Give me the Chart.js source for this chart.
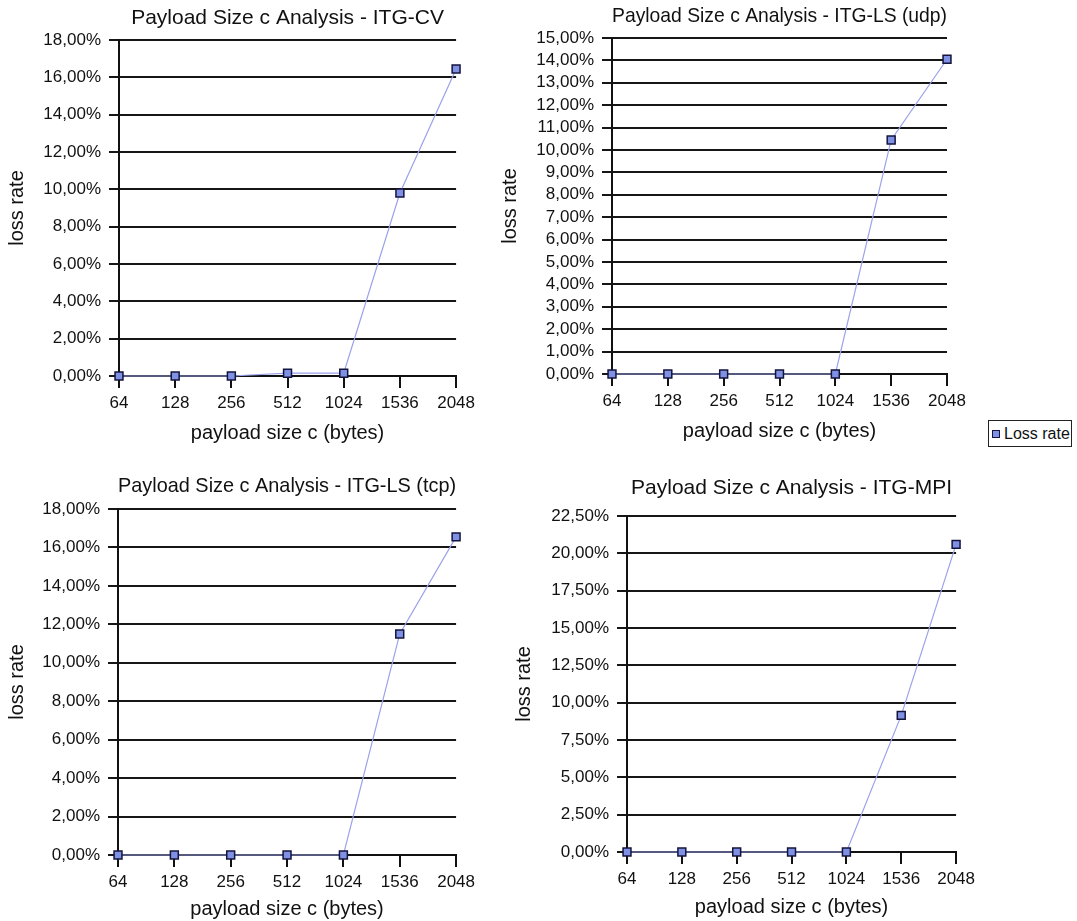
<!DOCTYPE html>
<html>
<head>
<meta charset="utf-8">
<title>Payload Size c Analysis</title>
<script src="https://cdn.jsdelivr.net/npm/chart.js@4.4.1/dist/chart.umd.min.js"></script>
<style>
  html, body { margin: 0; padding: 0; background: #fff; overflow: hidden; }
  body { width: 1077px; height: 921px; position: relative; }
  canvas { position: absolute; }
  .legend {
    position: absolute; left: 988px; top: 420px; width: 84px; height: 27px;
    box-sizing: border-box; border: 1.5px solid #222;
    display: flex; align-items: center; padding-left: 3px;
    font: 16px 'Liberation Sans', Arial, Helvetica, sans-serif; color: #111;
  }
  .legend i {
    display: inline-block; width: 6px; height: 6px; margin-right: 4px;
    background: #7f91e4; border: 1px solid #14143c;
  }
</style>
</head>
<body>
<canvas id="chart-cv"></canvas>
<canvas id="chart-ls-udp"></canvas>
<canvas id="chart-ls-tcp"></canvas>
<canvas id="chart-mpi"></canvas>
<div class="legend"><i></i>Loss rate</div>

<script>
// x categories: payload size c (bytes)
const payloadSizes = ['64', '128', '256', '512', '1024', '1536', '2048'];

// loss rate (%)
const lossCV = [0, 0, 0, 0.15, 0.15, 9.8, 16.45];
const lossLSudp = [0, 0, 0, 0, 0, 10.45, 14.05];
const lossLStcp = [0, 0, 0, 0, 0, 11.5, 16.55];
const lossMPI = [0, 0, 0, 0, 0, 9.15, 20.6];

// y tick values (%) per panel
const ticksCV = [0, 2, 4, 6, 8, 10, 12, 14, 16, 18];
const ticksLSudp = [0, 1, 2, 3, 4, 5, 6, 7, 8, 9, 10, 11, 12, 13, 14, 15];
const ticksLStcp = [0, 2, 4, 6, 8, 10, 12, 14, 16, 18];
const ticksMPI = [0, 2.5, 5, 7.5, 10, 12.5, 15, 17.5, 20, 22.5];

const FONT = "'Liberation Sans', Arial, Helvetica, sans-serif";
const TEXT = '#111';

// percent label with comma decimal, e.g. 12,50%
const fmtPct = v => v.toFixed(2).replace('.', ',') + '%';

// panel placement on the page (canvas box + wanted plot area)
const panels = [
    { id: 'chart-cv', title: 'Payload Size c Analysis - ITG-CV', data: lossCV, ticks: ticksCV,
      box: { x: 0, y: 0, w: 480, h: 449 }, area: { l: 119, r: 457, t: 40, b: 376 },
      titleY: 18, xTitleY: 433, yTitleX: 17 },
    { id: 'chart-ls-udp', title: 'Payload Size c Analysis - ITG-LS (udp)', data: lossLSudp, ticks: ticksLSudp,
      box: { x: 494, y: 0, w: 481, h: 447 }, area: { l: 612, r: 947, t: 38, b: 374 },
      titleY: 16, xTitleY: 431, yTitleX: 510 },
    { id: 'chart-ls-tcp', title: 'Payload Size c Analysis - ITG-LS (tcp)', data: lossLStcp, ticks: ticksLStcp,
      box: { x: 0, y: 450, w: 480, h: 471 }, area: { l: 118, r: 457, t: 509, b: 855 },
      titleY: 486, xTitleY: 909, yTitleX: 17 },
    { id: 'chart-mpi', title: 'Payload Size c Analysis - ITG-MPI', data: lossMPI, ticks: ticksMPI,
      box: { x: 508, y: 450, w: 472, h: 471 }, area: { l: 627, r: 958, t: 516, b: 852 },
      titleY: 488, xTitleY: 907, yTitleX: 524 },
];

const makeChart = (p) => {
    const canvas = document.getElementById(p.id);
    canvas.width = p.box.w;
    canvas.height = p.box.h;
    canvas.style.left = p.box.x + 'px';
    canvas.style.top = p.box.y + 'px';

    const titleSize = 21;
    const titleLH = titleSize * 1.2;
    const titlePadTop = p.titleY - p.box.y - titleLH / 2;
    const titlePadBottom = (p.area.t - p.box.y) - titlePadTop - titleLH;
    const axisTitleSize = 20;
    const axisLH = axisTitleSize * 1.2;

    return new Chart(canvas, {
        type: 'line',
        data: {
            labels: payloadSizes,
            datasets: [{
                label: 'Loss rate',
                data: p.data,
                borderColor: '#9aa2ea',
                borderWidth: 1.2,
                pointStyle: 'rect',
                pointRadius: 5.6,
                pointBackgroundColor: '#7f91e4',
                pointBorderColor: '#14143c',
                pointBorderWidth: 1.5,
                tension: 0,
                clip: false,
            }],
        },
        options: {
            responsive: false,
            animation: false,
            devicePixelRatio: 1,
            layout: {
                padding: { left: 0, top: 0, bottom: 0, right: p.box.x + p.box.w - p.area.r },
            },
            plugins: {
                legend: { display: false },
                tooltip: { enabled: false },
                title: {
                    display: true,
                    text: p.title,
                    fullSize: false,
                    color: TEXT,
                    font: { family: FONT, size: titleSize, weight: 'normal' },
                    padding: { top: titlePadTop, bottom: titlePadBottom },
                },
            },
            scales: {
                x: {
                    grid: { drawOnChartArea: false, drawTicks: true, tickLength: 12, color: '#111', lineWidth: 2 },
                    border: { color: '#111', width: 2 },
                    ticks: { color: TEXT, font: { family: FONT, size: 17 }, padding: 5, maxRotation: 0, autoSkip: false },
                    title: {
                        display: true,
                        text: 'payload size c (bytes)',
                        color: TEXT,
                        font: { family: FONT, size: axisTitleSize },
                        padding: { top: 0, bottom: (p.box.y + p.box.h) - p.xTitleY - axisLH / 2 },
                    },
                    afterFit: (scale) => { scale.height = p.box.y + p.box.h - p.area.b; },
                },
                y: {
                    min: p.ticks[0],
                    max: p.ticks[p.ticks.length - 1],
                    afterBuildTicks: (scale) => { scale.ticks = p.ticks.map(v => ({ value: v })); },
                    ticks: { color: TEXT, font: { family: FONT, size: 17 }, padding: 8, autoSkip: false, callback: fmtPct },
                    grid: { color: '#161616', lineWidth: 2, tickLength: 10 },
                    border: { color: '#111', width: 2 },
                    title: {
                        display: true,
                        text: 'loss rate',
                        color: TEXT,
                        font: { family: FONT, size: axisTitleSize },
                        padding: { top: p.yTitleX - p.box.x - axisLH / 2, bottom: 0 },
                    },
                    afterFit: (scale) => { scale.width = p.area.l - p.box.x; },
                },
            },
        },
    });
};

panels.forEach(makeChart);
</script>
</body>
</html>
